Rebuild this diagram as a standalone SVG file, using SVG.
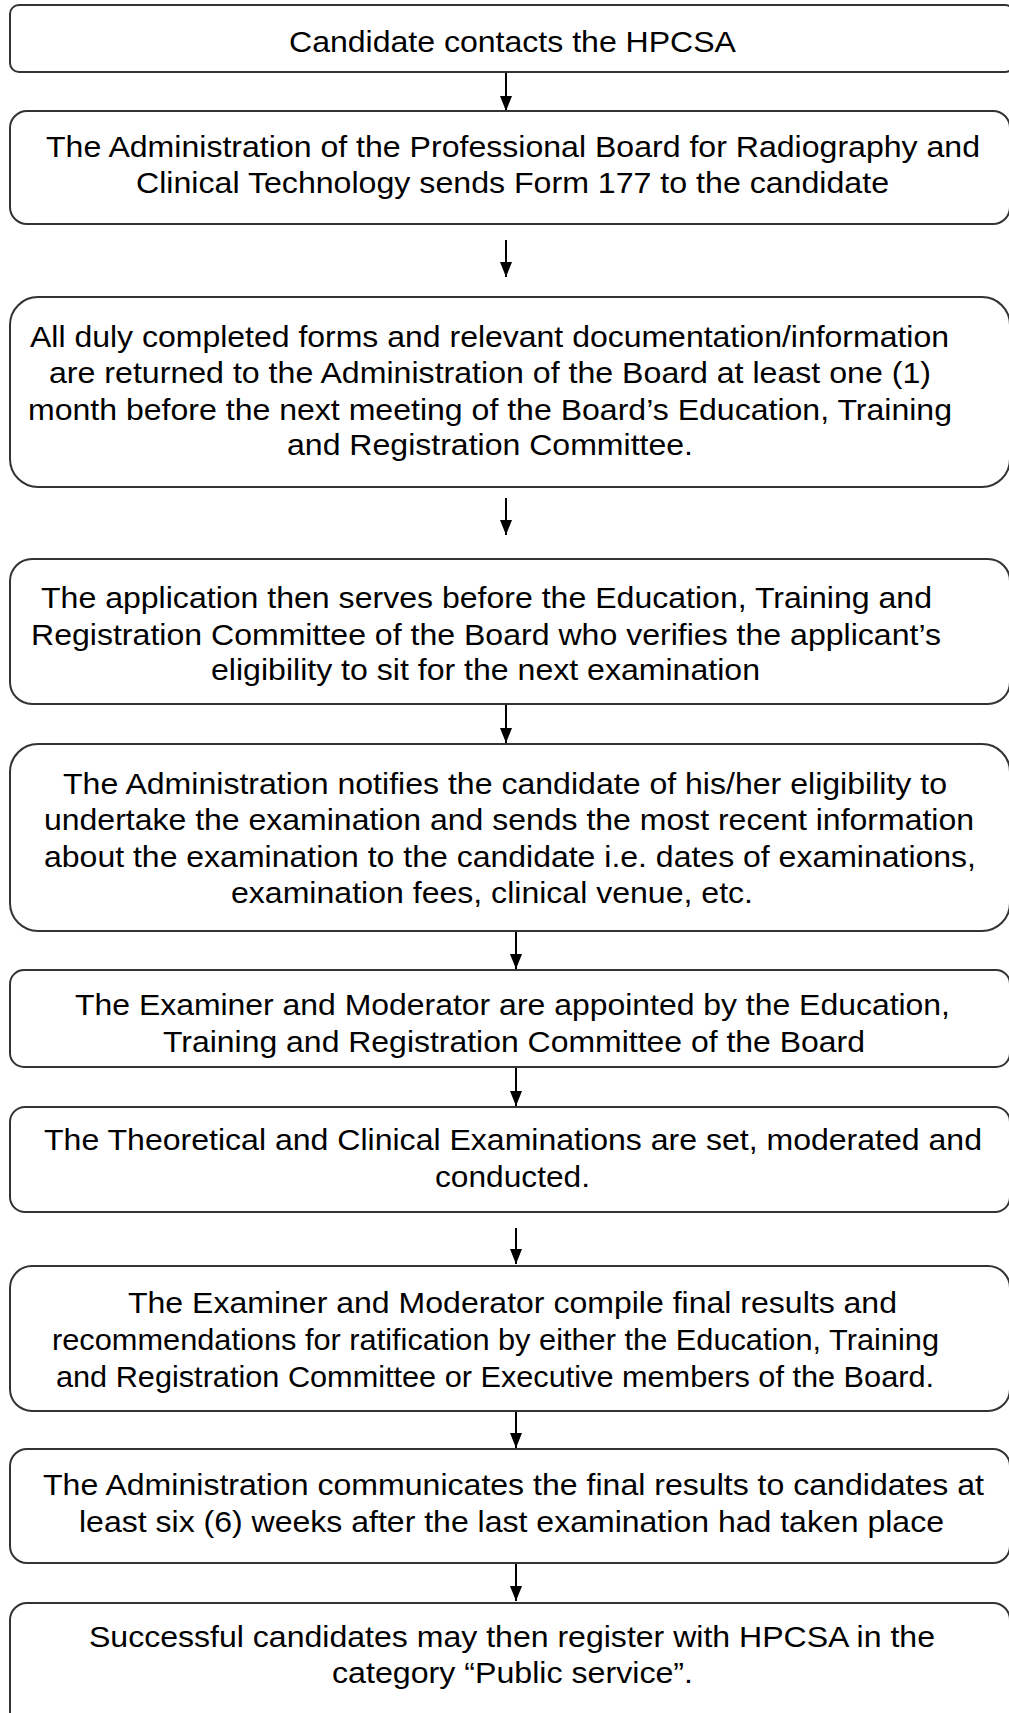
<svg xmlns="http://www.w3.org/2000/svg" width="1009" height="1713" viewBox="0 0 1009 1713">
<style>
.box{fill:#fff;stroke:#333;stroke-width:2}
.t{font-family:"Liberation Sans",Arial,sans-serif;font-size:30px;fill:#000;text-anchor:middle}
.c{stroke:#000;stroke-width:2;fill:none}
</style>
<defs>
<marker id="ah" viewBox="0 0 15 12" refX="15" refY="6" markerWidth="15" markerHeight="12" markerUnits="userSpaceOnUse" orient="auto">
<path d="M0,0 L15,6 L0,12 z" fill="#000"/>
</marker>
</defs>
<rect width="1009" height="1713" fill="#fff"/>
<g id="connectors">
<line class="c" x1="506" y1="72" x2="506" y2="111" marker-end="url(#ah)"/>
<line class="c" x1="506" y1="240" x2="506" y2="277" marker-end="url(#ah)"/>
<line class="c" x1="506" y1="498" x2="506" y2="535" marker-end="url(#ah)"/>
<line class="c" x1="506" y1="704" x2="506" y2="743" marker-end="url(#ah)"/>
<line class="c" x1="516" y1="931" x2="516" y2="969" marker-end="url(#ah)"/>
<line class="c" x1="516" y1="1067" x2="516" y2="1106" marker-end="url(#ah)"/>
<line class="c" x1="516" y1="1228" x2="516" y2="1264" marker-end="url(#ah)"/>
<line class="c" x1="516" y1="1411" x2="516" y2="1448" marker-end="url(#ah)"/>
<line class="c" x1="516" y1="1563" x2="516" y2="1601" marker-end="url(#ah)"/>
</g>
<g id="n1">
<rect class="box" x="10" y="5" width="1004" height="67" rx="9"/>
<text class="t" x="512.5" y="52" textLength="447" lengthAdjust="spacingAndGlyphs">Candidate contacts the HPCSA</text>
</g>
<g id="n2">
<rect class="box" x="10" y="111" width="1000" height="113" rx="17"/>
<text class="t" x="513" y="157" textLength="934" lengthAdjust="spacingAndGlyphs">The Administration of the Professional Board for Radiography and</text>
<text class="t" x="512.5" y="193" textLength="753" lengthAdjust="spacingAndGlyphs">Clinical Technology sends Form 177 to the candidate</text>
</g>
<g id="n3">
<rect class="box" x="10" y="297" width="1000" height="190" rx="28"/>
<text class="t" x="489.5" y="347" textLength="919" lengthAdjust="spacingAndGlyphs">All duly completed forms and relevant documentation/information</text>
<text class="t" x="490" y="383" textLength="882" lengthAdjust="spacingAndGlyphs">are returned to the Administration of the Board at least one (1)</text>
<text class="t" x="490" y="419.5" textLength="924" lengthAdjust="spacingAndGlyphs">month before the next meeting of the Board’s Education, Training</text>
<text class="t" x="490" y="455" textLength="406" lengthAdjust="spacingAndGlyphs">and Registration Committee.</text>
</g>
<g id="n4">
<rect class="box" x="10" y="559" width="1000" height="145" rx="22"/>
<text class="t" x="486.5" y="608" textLength="891" lengthAdjust="spacingAndGlyphs">The application then serves before the Education, Training and</text>
<text class="t" x="486" y="644.5" textLength="910" lengthAdjust="spacingAndGlyphs">Registration Committee of the Board who verifies the applicant’s</text>
<text class="t" x="485.5" y="680" textLength="549" lengthAdjust="spacingAndGlyphs">eligibility to sit for the next examination</text>
</g>
<g id="n5">
<rect class="box" x="10" y="744" width="1000" height="187" rx="28"/>
<text class="t" x="505" y="793.5" textLength="884" lengthAdjust="spacingAndGlyphs">The Administration notifies the candidate of his/her eligibility to</text>
<text class="t" x="509" y="830" textLength="930" lengthAdjust="spacingAndGlyphs">undertake the examination and sends the most recent information</text>
<text class="t" x="510" y="866.5" textLength="932" lengthAdjust="spacingAndGlyphs">about the examination to the candidate i.e. dates of examinations,</text>
<text class="t" x="492" y="903" textLength="522" lengthAdjust="spacingAndGlyphs">examination fees, clinical venue, etc.</text>
</g>
<g id="n6">
<rect class="box" x="10" y="970" width="1000" height="97" rx="14"/>
<text class="t" x="512.5" y="1015" textLength="875" lengthAdjust="spacingAndGlyphs">The Examiner and Moderator are appointed by the Education,</text>
<text class="t" x="514" y="1051.5" textLength="702" lengthAdjust="spacingAndGlyphs">Training and Registration Committee of the Board</text>
</g>
<g id="n7">
<rect class="box" x="10" y="1107" width="1000" height="105" rx="15"/>
<text class="t" x="513" y="1150" textLength="938" lengthAdjust="spacingAndGlyphs">The Theoretical and Clinical Examinations are set, moderated and</text>
<text class="t" x="512.5" y="1186.5" textLength="155" lengthAdjust="spacingAndGlyphs">conducted.</text>
</g>
<g id="n8">
<rect class="box" x="10" y="1266" width="1000" height="145" rx="22"/>
<text class="t" x="512.5" y="1313" textLength="769" lengthAdjust="spacingAndGlyphs">The Examiner and Moderator compile final results and</text>
<text class="t" x="495.5" y="1350" textLength="887" lengthAdjust="spacingAndGlyphs">recommendations for ratification by either the Education, Training</text>
<text class="t" x="495" y="1386.5" textLength="878" lengthAdjust="spacingAndGlyphs">and Registration Committee or Executive members of the Board.</text>
</g>
<g id="n9">
<rect class="box" x="10" y="1449" width="1000" height="114" rx="17"/>
<text class="t" x="513.5" y="1495" textLength="941" lengthAdjust="spacingAndGlyphs">The Administration communicates the final results to candidates at</text>
<text class="t" x="511.5" y="1531.5" textLength="865" lengthAdjust="spacingAndGlyphs">least six (6) weeks after the last examination had taken place</text>
</g>
<g id="n10">
<rect class="box" x="10" y="1603" width="1000" height="130" rx="17"/>
<text class="t" x="512" y="1647" textLength="846" lengthAdjust="spacingAndGlyphs">Successful candidates may then register with HPCSA in the</text>
<text class="t" x="512.5" y="1683" textLength="361" lengthAdjust="spacingAndGlyphs">category “Public service”.</text>
</g>
</svg>
